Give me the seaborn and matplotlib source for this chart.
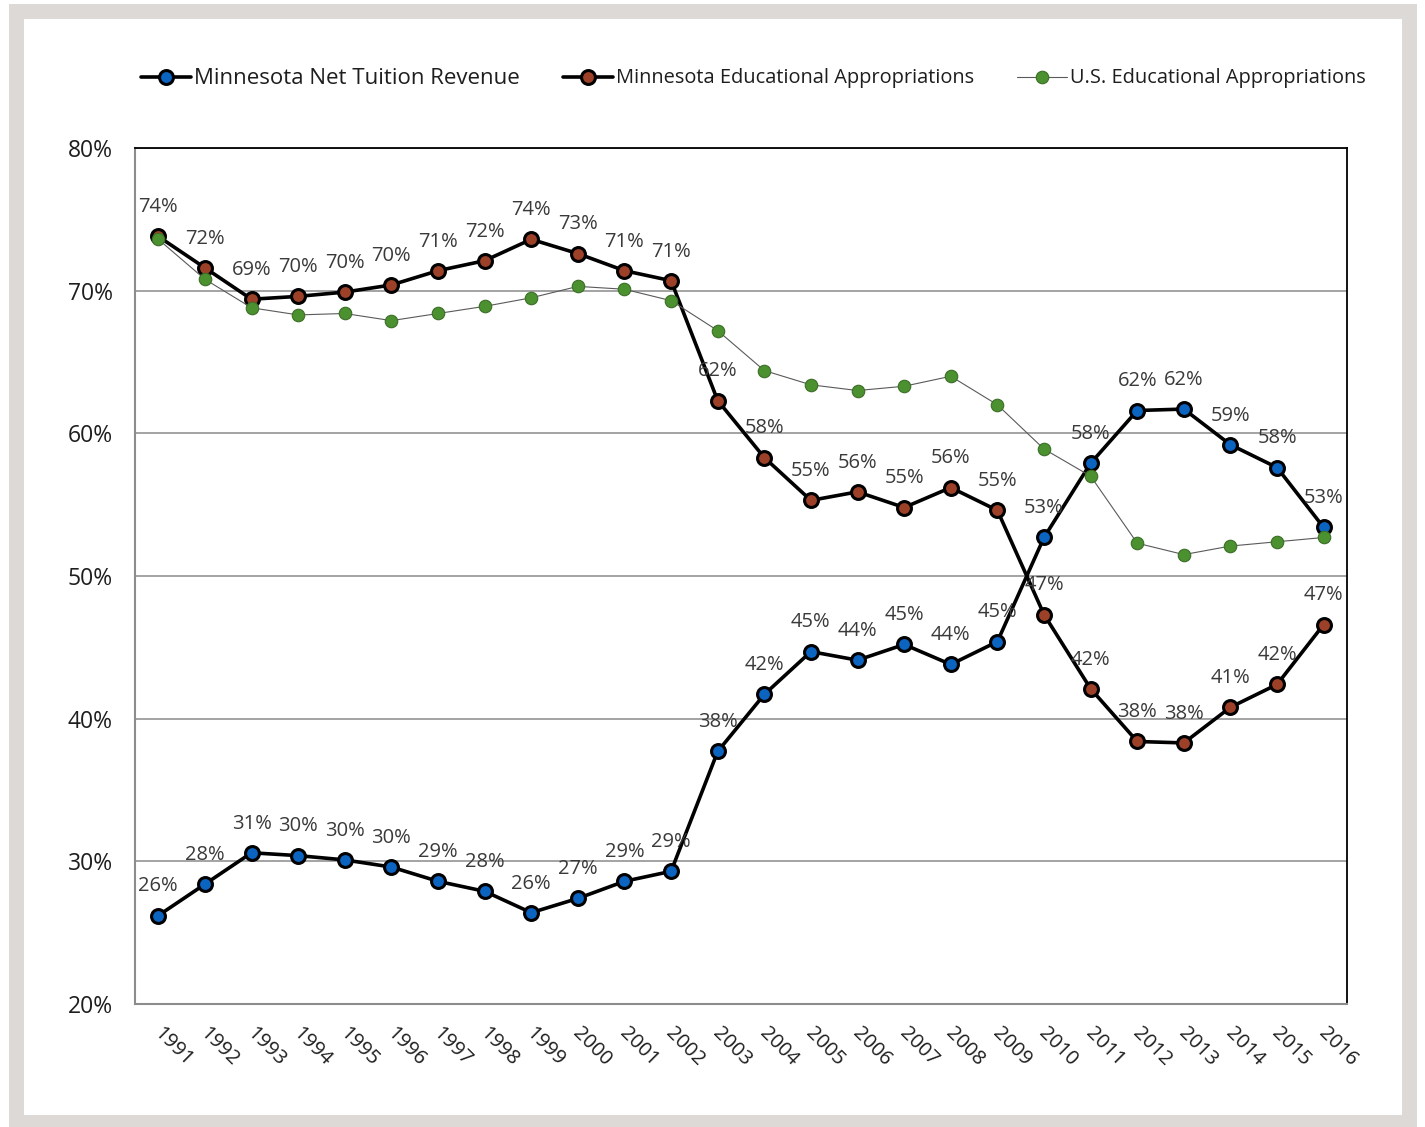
import pandas as pd
import matplotlib.pyplot as plt
import seaborn as sns
from matplotlib.patches import Rectangle
from matplotlib.ticker import FixedLocator, PercentFormatter
from matplotlib.transforms import ScaledTranslation

# data (percent)
years = [1991, 1992, 1993, 1994, 1995, 1996, 1997, 1998, 1999, 2000, 2001, 2002, 2003,
         2004, 2005, 2006, 2007, 2008, 2009, 2010, 2011, 2012, 2013, 2014, 2015, 2016]

mn_tuition = [26.2, 28.4, 30.6, 30.4, 30.1, 29.6, 28.6, 27.9, 26.4, 27.4, 28.6, 29.3, 37.7,
              41.7, 44.7, 44.1, 45.2, 43.8, 45.4, 52.7, 57.9, 61.6, 61.7, 59.2, 57.6, 53.4]

mn_approp = [73.8, 71.6, 69.4, 69.6, 69.9, 70.4, 71.4, 72.1, 73.6, 72.6, 71.4, 70.7, 62.3,
             58.3, 55.3, 55.9, 54.8, 56.2, 54.6, 47.3, 42.1, 38.4, 38.3, 40.8, 42.4, 46.6]

us_approp = [73.6, 70.8, 68.8, 68.3, 68.4, 67.9, 68.4, 68.9, 69.5, 70.3, 70.1, 69.3, 67.2,
             64.4, 63.4, 63.0, 63.3, 64.0, 62.0, 58.9, 57.0, 52.3, 51.5, 52.1, 52.4, 52.7]

labels = ['Minnesota Net Tuition Revenue',
          'Minnesota Educational Appropriations',
          'U.S. Educational Appropriations']

df = pd.DataFrame({'pos': range(len(years)), 'year': years,
                   'tuition': mn_tuition, 'approp': mn_approp, 'us': us_approp})

sns.set_style('white')
plt.rcParams['font.family'] = ['Open Sans', 'DejaVu Sans']

fig = plt.figure(figsize=(14.25, 11.27), dpi=100)

# grey frame around the chart
fig.add_artist(Rectangle((9 / 1425, 0), 1408 / 1425, 1123 / 1127, transform=fig.transFigure,
                         facecolor='#dcd9d6', edgecolor='none', zorder=-10))
fig.add_artist(Rectangle((24 / 1425, 12 / 1127), 1378 / 1425, 1096 / 1127, transform=fig.transFigure,
                         facecolor='white', edgecolor='none', zorder=-9))

ax = fig.add_axes([135 / 1425, 123 / 1127, 1212 / 1425, 856 / 1127])
ax.patch.set_alpha(0)

sns.lineplot(data=df, x='pos', y='tuition', ax=ax, color='black', lw=2.6,
             marker='o', markersize=10, markerfacecolor='#0a64c0', markeredgecolor='black',
             markeredgewidth=2.2, label=labels[0], zorder=3)
sns.lineplot(data=df, x='pos', y='approp', ax=ax, color='black', lw=2.6,
             marker='o', markersize=10, markerfacecolor='#9c4128', markeredgecolor='black',
             markeredgewidth=2.2, label=labels[1], zorder=4)
sns.lineplot(data=df, x='pos', y='us', ax=ax, color='#5a5a5a', lw=0.8,
             marker='o', markersize=9, markerfacecolor='#4b9130', markeredgecolor='#3c6e28',
             markeredgewidth=0.8, label=labels[2], zorder=5)

# data labels for the two Minnesota series
for col in ['tuition', 'approp']:
    for p, v in zip(df['pos'], df[col]):
        ax.annotate(f'{v:.0f}%', (p, v), xytext=(0, 21), textcoords='offset points',
                    ha='center', va='center', fontsize=14.5, color='#3a3a3a', zorder=6)

ax.set_xlim(-0.5, len(years) - 0.5)
ax.set_ylim(20, 80)
ax.set_yticks(range(20, 81, 10))
ax.yaxis.set_major_formatter(PercentFormatter(decimals=0))
ax.grid(axis='y', color='#9c9c9c', lw=1.3)
ax.set_axisbelow(True)

# year labels at category centres, tick marks at boundaries
ax.set_xticks(range(len(years)))
ax.set_xticklabels([str(y) for y in years], rotation=-45, ha='left', va='top',
                   rotation_mode='anchor', fontsize=14.5, color='#1e1e1e')
ax.xaxis.set_minor_locator(FixedLocator([i - 0.5 for i in range(len(years) + 1)]))
ax.tick_params(axis='x', which='major', length=0, pad=14)
ax.tick_params(axis='x', which='minor', length=6, width=1.3, color='#8c8c8c', direction='out')
ax.tick_params(axis='y', length=6, width=1.3, color='#8c8c8c', direction='out',
               labelsize=16.5, labelcolor='#1e1e1e', pad=10)
shift = ScaledTranslation(5 / 100, 0, fig.dpi_scale_trans)
for lbl in ax.get_xticklabels():
    lbl.set_transform(lbl.get_transform() + shift)

for side in ['left', 'bottom']:
    ax.spines[side].set_color('#8c8c8c')
    ax.spines[side].set_linewidth(1.5)
for side in ['top', 'right']:
    ax.spines[side].set_color('black')
    ax.spines[side].set_linewidth(1.3)

ax.set_xlabel('')
ax.set_ylabel('')

h, l = ax.get_legend_handles_labels()
ax.get_legend().remove()
leg = fig.legend(h, l, loc='center left', bbox_to_anchor=(133 / 1425, 1 - 78 / 1127),
                 ncol=3, frameon=False, fontsize=14.4, handlelength=2.5,
                 handletextpad=0.15, columnspacing=2.15, borderaxespad=0)
for t in leg.get_texts():
    t.set_color('#1e1e1e')
leg.get_texts()[0].set_fontsize(16)

fig.savefig('out.png', dpi=100)
